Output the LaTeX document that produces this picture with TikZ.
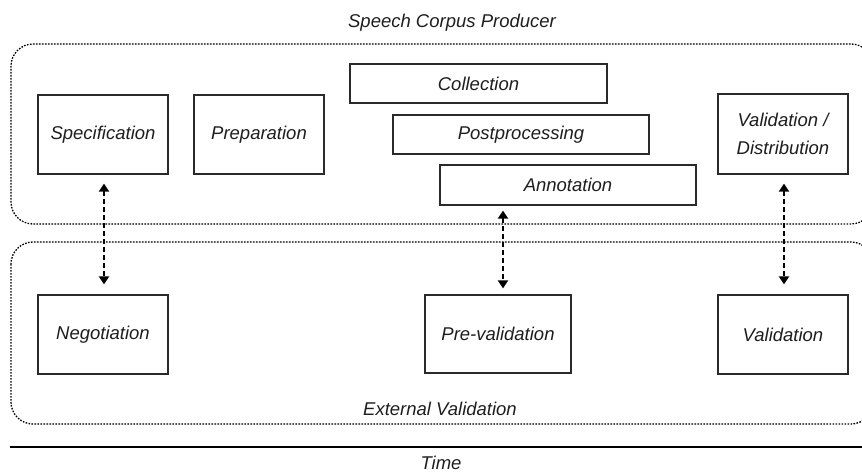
\documentclass[tikz,border=0pt]{standalone}
\usepackage{fontspec}
\setmainfont{Liberation Sans}
\usetikzlibrary{arrows.meta}
\definecolor{ink}{HTML}{1E1E1E}
\definecolor{edge}{HTML}{2A2A2A}
\tikzset{
  lbl/.style={font=\fontsize{18.5}{28}\selectfont\itshape, text=ink, inner sep=0pt},
  stepbox/.style={draw=edge, line width=1.3pt, fill=white, lbl, align=center},
  phase/.style={draw=black, line width=1.3pt, dash pattern=on 1.6pt off 1.4pt, rounded corners=22pt},
  biarrow/.style={draw=black, line width=2.6pt, dash pattern=on 5pt off 3pt, {Triangle[width=10pt,length=8pt]}-{Triangle[width=10pt,length=8pt]}},
  timeline/.style={draw=black, line width=2pt}
}
\begin{document}
\begin{tikzpicture}[x=1pt,y=1pt]
\useasboundingbox (0,0) rectangle (862,-473);
\clip (0,0) rectangle (862,-473);
% phase regions
\draw[phase] (11,-44) rectangle (873,-224);
\draw[phase] (11,-242) rectangle (873,-424);
\node[lbl] (prodlbl) at (452,-23) {Speech Corpus Producer};
\node[lbl] (extlbl) at (440,-409) {External Validation};
% steps
\node[stepbox, minimum width=130pt, minimum height=79pt] (spec) at (103,-134.5) {Specification};
\node[stepbox, minimum width=130pt, minimum height=79pt] (prep) at (259,-134.5) {Preparation};
\node[stepbox, minimum width=257pt, minimum height=39pt] (coll) at (478.5,-83.5) {Collection};
\node[stepbox, minimum width=256pt, minimum height=39pt] (post) at (521,-134.5) {Postprocessing};
\node[stepbox, minimum width=256pt, minimum height=40pt] (anno) at (568,-185) {Annotation};
\node[stepbox, minimum width=130pt, minimum height=80pt] (vd) at (783,-134) {Validation /\\Distribution};
\node[stepbox, minimum width=130pt, minimum height=79pt] (neg) at (103,-334.5) {Negotiation};
\node[stepbox, minimum width=146pt, minimum height=78pt] (prev) at (498,-334) {Pre-validation};
\node[stepbox, minimum width=130pt, minimum height=79pt] (val) at (783,-334.5) {Validation};
% connectors
\draw[biarrow, shorten <=9pt, shorten >=10pt] ([xshift=1pt]spec.south) -- ([xshift=1pt]neg.north);
\draw[biarrow, shorten <=5pt, shorten >=6pt] ([xshift=5pt]prev.north |- anno.south) -- ([xshift=5pt]prev.north);
\draw[biarrow, shorten <=9pt, shorten >=10pt] ([xshift=1pt]vd.south) -- ([xshift=1pt]val.north);
% time axis
\coordinate (t0) at (10,-447);
\coordinate (t1) at (862,-447);
\draw[timeline] (t0) -- (t1);
\node[lbl] (timelbl) at (441,-463) {Time};
\end{tikzpicture}
\end{document}
